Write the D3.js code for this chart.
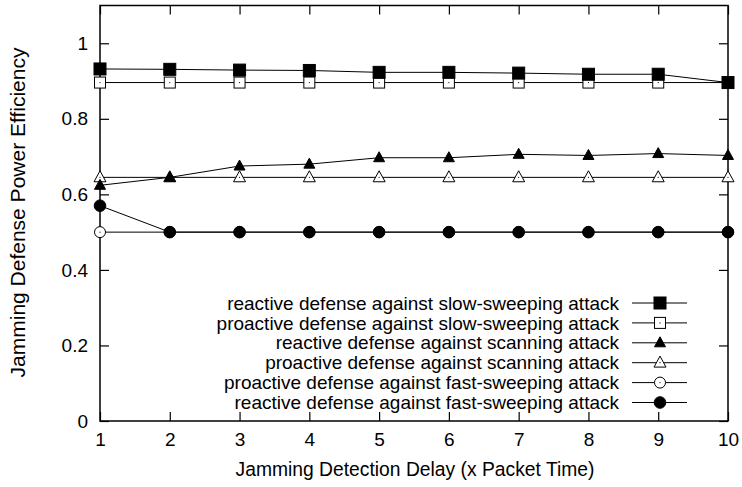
<!DOCTYPE html>
<html><head><meta charset="utf-8">
<script src="https://cdn.jsdelivr.net/npm/d3@7"></script>
<style>body{margin:0;background:#fff}svg{display:block}text{font-family:"Liberation Sans",Arial,sans-serif;fill:#000}</style>
</head><body><svg id="c" width="742" height="487"></svg>
<script>
const xs = [1,2,3,4,5,6,7,8,9,10];
const reactiveSlow = [0.932,0.931,0.929,0.928,0.923,0.923,0.921,0.918,0.918,0.896];
const proactiveSlow = [0.896,0.896,0.896,0.896,0.896,0.896,0.896,0.896,0.896,0.896];
const reactiveScan = [0.624,0.645,0.675,0.680,0.697,0.697,0.706,0.703,0.708,0.703];
const proactiveScan = [0.645,0.645,0.645,0.645,0.645,0.645,0.645,0.645,0.645,0.645];
const proactiveFast = [0.5,0.5,0.5,0.5,0.5,0.5,0.5,0.5,0.5,0.5];
const reactiveFast = [0.57,0.5,0.5,0.5,0.5,0.5,0.5,0.5,0.5,0.5];
const seriesNames = [
 "reactive defense against slow-sweeping attack",
 "proactive defense against slow-sweeping attack",
 "reactive defense against scanning attack",
 "proactive defense against scanning attack",
 "proactive defense against fast-sweeping attack",
 "reactive defense against fast-sweeping attack"];
const markers = ["fsquare","osquare","ftri","otri","ocircle","fcircle"];
const seriesData = [reactiveSlow, proactiveSlow, reactiveScan, proactiveScan, proactiveFast, reactiveFast];
const drawOrder = [1,0,3,2,4,5];
const yTicks = [0,0.2,0.4,0.6,0.8,1];
const yTickLabels = ["0","0.2","0.4","0.6","0.8","1"];

const FS = 19;
const svg = d3.select("#c");
const L=100,R=728,T=5.5,B=421;
const x = d3.scaleLinear().domain([1,10]).range([L,R]);
const y = d3.scaleLinear().domain([0,1.1]).range([B,T]);
const TL=9;

const g = svg.append("g");
g.append("g").attr("transform",`translate(0,${B})`)
 .call(d3.axisBottom(x).tickValues(xs).tickSize(-TL).tickPadding(12).tickFormat(d3.format("d")))
 .call(a=>{a.select(".domain").remove();a.selectAll("text").attr("font-size",FS).attr("font-family","Liberation Sans, Arial");});
g.append("g").attr("transform",`translate(0,${T})`)
 .call(d3.axisTop(x).tickValues(xs).tickSize(-TL).tickFormat(""))
 .call(a=>a.select(".domain").remove());
g.append("g").attr("transform",`translate(${L},0)`)
 .call(d3.axisLeft(y).tickValues(yTicks).tickSize(-TL).tickPadding(12).tickFormat((d,i)=>yTickLabels[i]))
 .call(a=>{a.select(".domain").remove();a.selectAll("text").attr("font-size",FS).attr("font-family","Liberation Sans, Arial");});
g.append("g").attr("transform",`translate(${R},0)`)
 .call(d3.axisRight(y).tickValues(yTicks).tickSize(-TL).tickFormat(""))
 .call(a=>a.select(".domain").remove());
g.selectAll(".tick line").attr("stroke","#000").attr("stroke-width",1.2);

svg.append("rect").attr("x",L).attr("y",T).attr("width",R-L).attr("height",B-T)
 .attr("fill","none").attr("stroke","#000").attr("stroke-width",1.5);

svg.append("text").attr("x",415).attr("y",476).attr("text-anchor","middle").attr("font-size",19.3)
 .text("Jamming Detection Delay (x Packet Time)");
svg.append("text").attr("transform","translate(25,212.5) rotate(-90)").attr("text-anchor","middle").attr("font-size",21)
 .text("Jamming Defense Power Efficiency");

function marker(sel, type, cx, cy){
  const filled = type[0]==="f";
  const fill = filled?"#000":"#fff";
  let el;
  if(type.endsWith("square")){
    const s = filled?12:11;
    el = sel.append("rect").attr("x",cx-s/2).attr("y",cy-s/2).attr("width",s).attr("height",s);
  } else if(type.endsWith("tri")){
    const h = filled?10:11, w = filled?11:12;
    el = sel.append("path").attr("d",`M${cx},${cy-h*0.6}L${cx+w/2},${cy+h*0.4}L${cx-w/2},${cy+h*0.4}Z`);
  } else {
    el = sel.append("circle").attr("cx",cx).attr("cy",cy).attr("r",filled?5.8:5.5);
  }
  el.attr("fill",fill).attr("stroke","#000").attr("stroke-width",1);
  if(!filled) sel.append("circle").attr("cx",cx).attr("cy",cy).attr("r",0.6).attr("fill","#000");
}

const line = d3.line().x((d,i)=>x(xs[i])).y(d=>y(d));
drawOrder.forEach(k=>{
  const s = seriesData[k];
  svg.append("path").datum(s).attr("d",line).attr("fill","none").attr("stroke","#000").attr("stroke-width",1);
  const mg = svg.append("g");
  s.forEach((v,i)=>marker(mg, markers[k], x(xs[i]), y(v)));
});

const lg = svg.append("g");
seriesNames.forEach((n,i)=>{
  const yy = 303 + i*19.9;
  lg.append("text").attr("x",619).attr("y",yy).attr("dy","0.35em").attr("text-anchor","end").attr("font-size",FS).text(n);
  lg.append("line").attr("x1",632).attr("x2",687).attr("y1",yy).attr("y2",yy).attr("stroke","#000").attr("stroke-width",1);
  marker(lg, markers[i], 660, yy);
});
</script></body></html>
